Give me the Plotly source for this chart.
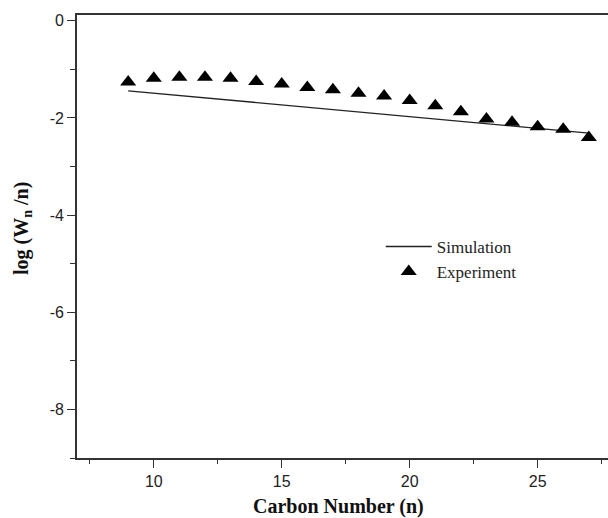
import plotly.graph_objects as go

carbon_n = [9, 10, 11, 12, 13, 14, 15, 16, 17, 18, 19, 20, 21, 22, 23, 24, 25, 26, 27]
experiment = [-1.26, -1.18, -1.16, -1.16, -1.18, -1.25, -1.30, -1.37, -1.42, -1.49,
              -1.55, -1.64, -1.75, -1.87, -2.02, -2.09, -2.18, -2.23, -2.40]
sim_n = [9, 27]
simulation = [-1.44, -2.31]

y_ticks = [0, -2, -4, -6, -8]
y_labels = ["0", "-2", "-4", "-6", "-8"]
x_ticks = [10, 15, 20, 25]
x_labels = ["10", "15", "20", "25"]

fig = go.Figure()
fig.add_trace(go.Scatter(x=sim_n, y=simulation, mode="lines", name="Simulation",
                         line=dict(color="#222222", width=1.3)))
fig.add_trace(go.Scatter(x=carbon_n, y=experiment, mode="markers", name="Experiment",
                         marker=dict(symbol="triangle-up", size=14, color="black",
                                     line=dict(width=0))))

axis_col = "#333333"
title_font = dict(family="Liberation Serif", size=20, color="#111111")
fig.update_layout(
    width=608, height=518,
    margin=dict(l=77, r=0, t=15, b=60),
    plot_bgcolor="white", paper_bgcolor="white",
    showlegend=True,
    legend=dict(x=0.572, y=0.517, xanchor="left", yanchor="top",
                font=dict(family="Liberation Serif", size=17, color="#222222"),
                bgcolor="rgba(0,0,0,0)", itemwidth=46, tracegroupgap=0),
    xaxis=dict(range=[7, 27.75], tickvals=x_ticks, ticktext=x_labels,
               showgrid=False, zeroline=False, showline=True, linecolor=axis_col,
               linewidth=1.6, mirror=True, ticks="outside", ticklen=8, tickwidth=1.3,
               tickcolor=axis_col,
               minor=dict(dtick=2.5, tick0=7.5, ticks="outside", ticklen=4,
                          tickwidth=1.2, tickcolor=axis_col, showgrid=False),
               tickfont=dict(family="Liberation Sans", size=16, color="#222222")),
    yaxis=dict(range=[-9, 0.12], tickvals=y_ticks, ticktext=y_labels,
               showgrid=False, zeroline=False, showline=True, linecolor=axis_col,
               linewidth=1.6, mirror=False, ticks="outside", ticklen=8, tickwidth=1.3,
               tickcolor=axis_col,
               minor=dict(dtick=1, tick0=-1, ticks="outside", ticklen=5,
                          tickwidth=1.2, tickcolor=axis_col, showgrid=False),
               tickfont=dict(family="Liberation Sans", size=16, color="#222222")),
    annotations=[
        dict(text="<b>Carbon Number (n)</b>", xref="paper", yref="paper",
             x=(338 - 77) / 531, y=-(507 - 458) / 443, xanchor="center", yanchor="middle",
             showarrow=False, font=title_font),
        dict(text="<b>log (W<sub>n</sub> /n)</b>", xref="paper", yref="paper",
             x=-(77 - 23) / 531, y=1 - (229 - 15) / 443, xanchor="center", yanchor="middle",
             textangle=-90, showarrow=False, font=title_font),
    ],
)

fig.write_html("out.html")
